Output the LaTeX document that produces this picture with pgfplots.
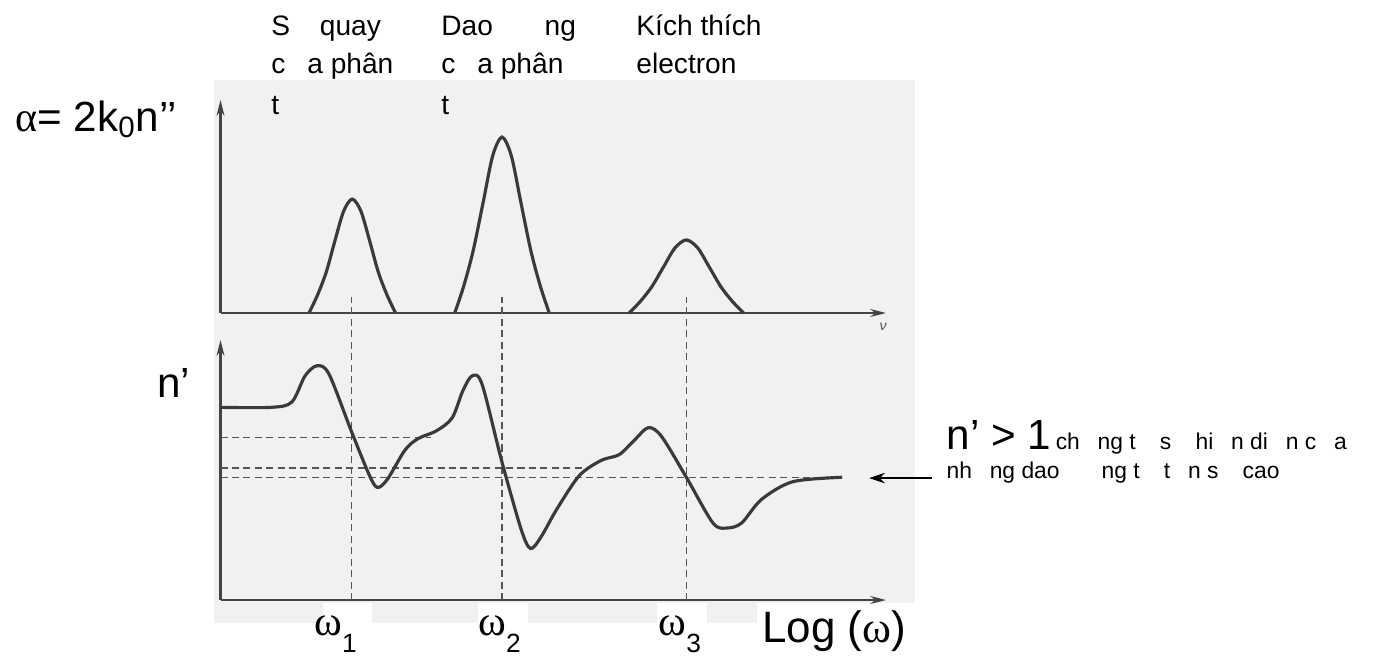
\documentclass[border=0pt]{standalone}
\usepackage{fontspec}
\setmainfont{Liberation Sans}
\newfontfamily\grk{Liberation Serif}
\usepackage{pgfplots}
\pgfplotsset{compat=1.18}
\usetikzlibrary{arrows.meta}

\definecolor{curvec}{HTML}{3A3A3A}
\definecolor{axc}{HTML}{444444}
\definecolor{dashc}{HTML}{555555}
\definecolor{scan}{HTML}{F1F1F1}

% gap left by a glyph the original font could not show
\newcommand{\m}{\hspace{0.78em}}
% omega with a large lowered index
\newcommand{\om}[1]{{\grk ω}\raisebox{-0.4em}{\fontsize{15}{15}\selectfont #1}}

\pgfplotsset{
  sketch/.style={
    scale only axis, width=13.31cm,
    xmin=0, xmax=10, ymin=0, ymax=10,
    axis x line=bottom, axis y line=left,
    ticks=none, clip=false,
    axis line style={draw=axc, line width=1.2pt, -{Stealth[length=9pt,width=4.5pt]}},
  },
  curve/.style={draw=curvec, line width=1.8pt, smooth, mark=none},
  guide/.style={draw=dashc, line width=0.8pt, dash pattern=on 4pt off 2.5pt, mark=none},
}

\begin{document}
\begin{tikzpicture}
\useasboundingbox (0,0) rectangle (27.6cm,13.12cm);

% scanned page behind the two panels
\begin{scope}[x=0.02cm, y=-0.02cm, shift={(0,13.12cm)}]
  \fill[scan] (214,80) rectangle (915,623);
  \fill[white] (323,603) rectangle (372,623);
  \fill[white] (478,603) rectangle (528,623);
  \fill[white] (657,603) rectangle (707,623);
  \fill[white] (757,603) rectangle (915,623);
\end{scope}

% absorption alpha
\begin{axis}[sketch, at={(4.41cm,6.86cm)}, anchor=south west, height=4.26cm]
\addplot[curve] coordinates {(1.33,0) (1.46,0.86) (1.59,1.93) (1.72,3.40) (1.85,4.78) (1.98,5.35)
  (2.11,4.78) (2.24,3.40) (2.37,1.93) (2.50,0.86) (2.63,0)};
\addplot[curve] coordinates {(3.52,0) (3.66,1.32) (3.80,2.97) (3.95,5.25) (4.09,7.38) (4.23,8.26)
  (4.37,7.38) (4.51,5.25) (4.66,2.97) (4.80,1.32) (4.94,0)};
\addplot[curve] coordinates {(6.14,0) (6.31,0.55) (6.48,1.23) (6.66,2.18) (6.83,3.06) (7.00,3.43)
  (7.17,3.06) (7.34,2.18) (7.52,1.23) (7.69,0.55) (7.86,0)};
\end{axis}

% refractive index n'
\begin{axis}[sketch, at={(4.41cm,1.12cm)}, anchor=south west, height=5.2cm]
\addplot[guide] coordinates {(1.97,0) (1.97,11.65)};
\addplot[guide] coordinates {(4.23,0) (4.23,11.65)};
\addplot[guide] coordinates {(7.00,0) (7.00,11.65)};
\addplot[guide] coordinates {(0,6.25) (3.17,6.25)};
\addplot[guide] coordinates {(0,5.08) (5.45,5.08)};
\addplot[guide] coordinates {(0,4.71) (9.34,4.71)};
\addplot[curve] coordinates {
  (0,7.41) (0.76,7.41) (1.07,7.61) (1.27,8.62) (1.45,9.01) (1.63,8.69)
  (1.97,6.47) (2.24,4.78) (2.36,4.33) (2.51,4.65) (2.77,5.76) (2.97,6.21)
  (3.24,6.50) (3.48,7.00) (3.64,8.04) (3.78,8.62) (3.93,8.30) (4.23,5.30)
  (4.52,2.70) (4.66,1.98) (4.82,2.44) (5.05,3.48) (5.39,4.78) (5.72,5.37)
  (5.99,5.59) (6.22,6.15) (6.43,6.63) (6.63,6.28) (7.00,4.72) (7.40,2.96)
  (7.61,2.77) (7.83,2.96) (8.13,3.87) (8.60,4.55) (9.34,4.72)};
\end{axis}

\begin{scope}[x=0.02cm, y=-0.02cm, shift={(0,13.12cm)}, every node/.style={inner sep=0pt, anchor=base west}]
  \begingroup\fontsize{16}{16}\selectfont
  \node at (271,35) {S\m\ quay};
  \node at (271,73) {c\m a phân};
  \node at (271,114) {t};
  \node at (441,35) {Dao \m\m ng};
  \node at (441,73) {c\m a phân};
  \node at (441,114) {t};
  \node at (636,35) {Kích thích};
  \node at (636,73) {electron};
  \endgroup

  \node at (15,131) {\fontsize{24}{24}\selectfont{\grk α}= 2k\textsubscript{0}n’’};
  \node at (157,397) {\fontsize{24}{24}\selectfont n’};
  \node[text=dashc] at (879,330) {\fontsize{8}{8}\selectfont\itshape ν};

  \node at (314,635) {\fontsize{24}{24}\selectfont\om{1}};
  \node at (478,635) {\fontsize{24}{24}\selectfont\om{2}};
  \node at (658,635) {\fontsize{24}{24}\selectfont\om{3}};
  \node at (762,642) {\fontsize{25}{25}\selectfont Log ({\grk ω})};

  \node at (946,449) {{\fontsize{24}{24}\selectfont n’ > 1} {\fontsize{13}{13}\selectfont ch\m ng t\m\ s\m\ hi\m n di\m n c\m a}};
  \node at (946,478) {\fontsize{13}{13}\selectfont nh\m ng dao \m\m ng t\m\ t\m n s\m\ cao};
  \draw[-{Stealth[length=9pt,width=6pt]}, line width=0.9pt] (932,478) -- (869,478);
\end{scope}
\end{tikzpicture}
\end{document}
